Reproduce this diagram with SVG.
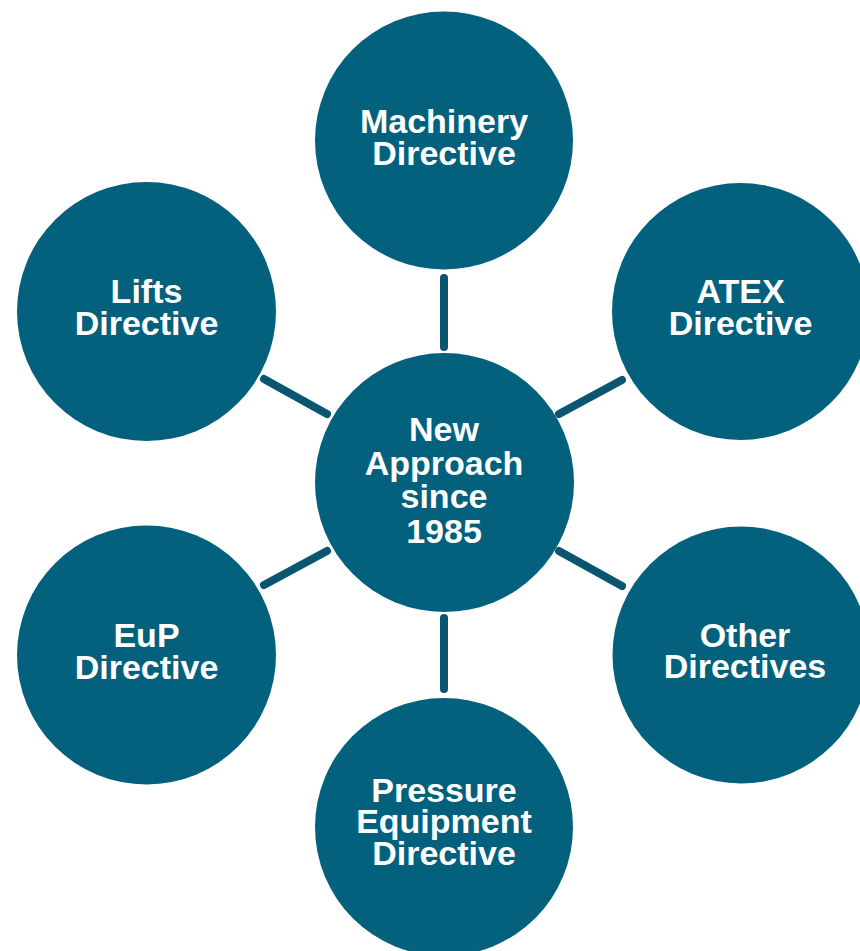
<svg xmlns="http://www.w3.org/2000/svg" width="860" height="951" viewBox="0 0 860 951">
<style>
.node{fill:#03617d}
.lbl{fill:#ffffff;font-family:"Liberation Sans",Arial,sans-serif;font-weight:bold;font-size:34px;text-anchor:middle}
.conn{stroke:#0a5570;stroke-width:8;stroke-linecap:round;fill:none}
</style>
<rect width="860" height="951" fill="#ffffff"/>
<g id="connectors">
<line class="conn" x1="444" y1="278" x2="444" y2="347"/>
<line class="conn" x1="444" y1="618" x2="444" y2="689"/>
<line class="conn" x1="264" y1="379" x2="327" y2="414"/>
<line class="conn" x1="559" y1="414" x2="622" y2="380"/>
<line class="conn" x1="264" y1="585" x2="327" y2="551"/>
<line class="conn" x1="559" y1="551" x2="622" y2="586"/>
</g>
<g id="center">
<circle class="node" cx="444.5" cy="482.5" r="129.5"/>
<text class="lbl" x="444" y="441">New</text>
<text class="lbl" x="444" y="475">Approach</text>
<text class="lbl" x="444" y="508">since</text>
<text class="lbl" x="444" y="543">1985</text>
</g>
<g id="machinery">
<circle class="node" cx="444" cy="140.5" r="129"/>
<text class="lbl" x="444" y="133">Machinery</text>
<text class="lbl" x="444" y="165">Directive</text>
</g>
<g id="atex">
<circle class="node" cx="740.5" cy="311.5" r="128.5"/>
<text class="lbl" x="740.5" y="303">ATEX</text>
<text class="lbl" x="740.5" y="335">Directive</text>
</g>
<g id="lifts">
<circle class="node" cx="146.5" cy="311.5" r="129.5"/>
<text class="lbl" x="146.5" y="303">Lifts</text>
<text class="lbl" x="146.5" y="335">Directive</text>
</g>
<g id="eup">
<circle class="node" cx="146.5" cy="655" r="129.5"/>
<text class="lbl" x="146.5" y="647">EuP</text>
<text class="lbl" x="146.5" y="679">Directive</text>
</g>
<g id="other">
<circle class="node" cx="741" cy="655" r="128.5"/>
<text class="lbl" x="745" y="647">Other</text>
<text class="lbl" x="745" y="678">Directives</text>
</g>
<g id="pressure">
<circle class="node" cx="444" cy="827" r="129"/>
<text class="lbl" x="444" y="802">Pressure</text>
<text class="lbl" x="444" y="833">Equipment</text>
<text class="lbl" x="444" y="865">Directive</text>
</g>
</svg>
